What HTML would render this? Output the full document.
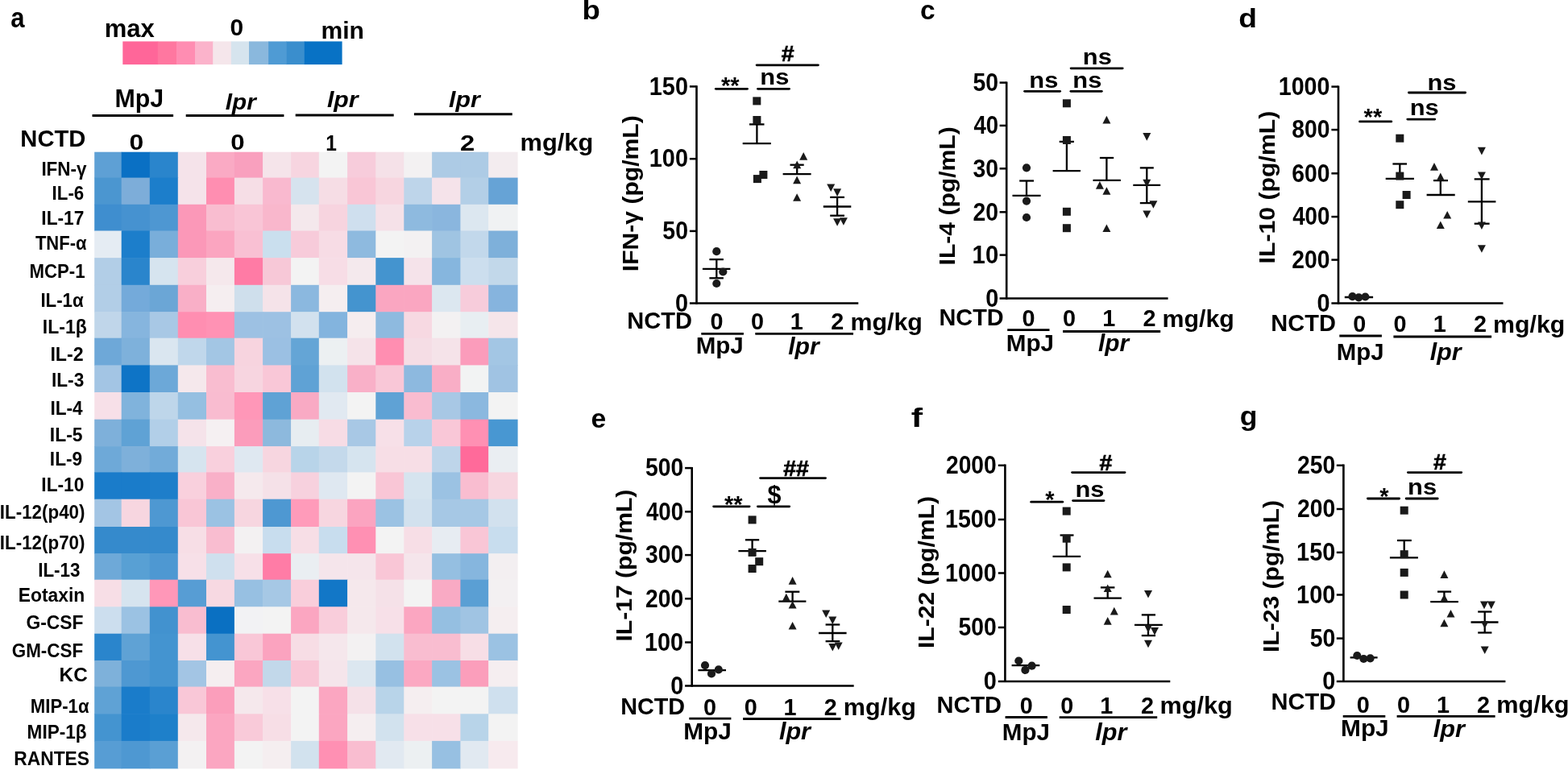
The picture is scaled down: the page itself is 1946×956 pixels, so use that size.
<!DOCTYPE html>
<html><head><meta charset="utf-8"><title>Figure</title>
<style>html,body{margin:0;padding:0;background:#fff;width:1946px;height:956px;overflow:hidden}svg{display:block}</style>
</head><body>
<svg width="1946" height="956" viewBox="0 0 1946 956" font-family='"Liberation Sans", Arial, sans-serif' font-weight="bold" fill="#000">
<rect width="1946" height="956" fill="#fff"/>
<g><rect x="117.20" y="188.70" width="34.10" height="32.50" fill="#5EA0D5"/>
<rect x="150.70" y="188.70" width="35.70" height="32.50" fill="#0A70C4"/>
<rect x="185.80" y="188.70" width="35.60" height="32.50" fill="#2A85CC"/>
<rect x="220.80" y="188.70" width="35.80" height="32.50" fill="#F5E3EA"/>
<rect x="256.00" y="188.70" width="35.50" height="32.50" fill="#FAAAC4"/>
<rect x="290.90" y="188.70" width="35.80" height="32.50" fill="#F9A0BE"/>
<rect x="326.10" y="188.70" width="35.60" height="32.50" fill="#F5E4EA"/>
<rect x="361.10" y="188.70" width="35.30" height="32.50" fill="#F7D5E0"/>
<rect x="395.80" y="188.70" width="35.90" height="32.50" fill="#F3F3F3"/>
<rect x="431.10" y="188.70" width="35.80" height="32.50" fill="#F7CCDB"/>
<rect x="466.30" y="188.70" width="35.60" height="32.50" fill="#F5E1E8"/>
<rect x="501.30" y="188.70" width="35.40" height="32.50" fill="#F3F1F2"/>
<rect x="536.10" y="188.70" width="35.90" height="32.50" fill="#ADCBE5"/>
<rect x="571.40" y="188.70" width="35.40" height="32.50" fill="#ADCBE5"/>
<rect x="606.20" y="188.70" width="36.40" height="32.50" fill="#F3ECEF"/>
<rect x="117.20" y="220.60" width="34.10" height="33.80" fill="#4B96D0"/>
<rect x="150.70" y="220.60" width="35.70" height="33.80" fill="#7DADD9"/>
<rect x="185.80" y="220.60" width="35.60" height="33.80" fill="#1C7ECB"/>
<rect x="220.80" y="220.60" width="35.80" height="33.80" fill="#F5E3EA"/>
<rect x="256.00" y="220.60" width="35.50" height="33.80" fill="#FF8EB1"/>
<rect x="290.90" y="220.60" width="35.80" height="33.80" fill="#F6DEE6"/>
<rect x="326.10" y="220.60" width="35.60" height="33.80" fill="#F9B9CF"/>
<rect x="361.10" y="220.60" width="35.30" height="33.80" fill="#D6E3EE"/>
<rect x="395.80" y="220.60" width="35.90" height="33.80" fill="#F6DDE5"/>
<rect x="431.10" y="220.60" width="35.80" height="33.80" fill="#F9C6D6"/>
<rect x="466.30" y="220.60" width="35.60" height="33.80" fill="#F7D6E0"/>
<rect x="501.30" y="220.60" width="35.40" height="33.80" fill="#BED5EA"/>
<rect x="536.10" y="220.60" width="35.90" height="33.80" fill="#F5E3EA"/>
<rect x="571.40" y="220.60" width="35.40" height="33.80" fill="#B3CFE7"/>
<rect x="606.20" y="220.60" width="36.40" height="33.80" fill="#66A3D6"/>
<rect x="117.20" y="253.80" width="34.10" height="33.30" fill="#3F8ECF"/>
<rect x="150.70" y="253.80" width="35.70" height="33.30" fill="#4692D0"/>
<rect x="185.80" y="253.80" width="35.60" height="33.30" fill="#4E97D2"/>
<rect x="220.80" y="253.80" width="35.80" height="33.30" fill="#FB98B8"/>
<rect x="256.00" y="253.80" width="35.50" height="33.30" fill="#F9BDD0"/>
<rect x="290.90" y="253.80" width="35.80" height="33.30" fill="#F9C5D6"/>
<rect x="326.10" y="253.80" width="35.60" height="33.30" fill="#F9B7CC"/>
<rect x="361.10" y="253.80" width="35.30" height="33.30" fill="#F4E8EC"/>
<rect x="395.80" y="253.80" width="35.90" height="33.30" fill="#F7D4DF"/>
<rect x="431.10" y="253.80" width="35.80" height="33.30" fill="#CFDFEE"/>
<rect x="466.30" y="253.80" width="35.60" height="33.30" fill="#F5E1E8"/>
<rect x="501.30" y="253.80" width="35.40" height="33.30" fill="#8EBADF"/>
<rect x="536.10" y="253.80" width="35.90" height="33.30" fill="#8AB6DE"/>
<rect x="571.40" y="253.80" width="35.40" height="33.30" fill="#DCE7F0"/>
<rect x="606.20" y="253.80" width="36.40" height="33.30" fill="#F0F2F3"/>
<rect x="117.20" y="286.50" width="34.10" height="34.20" fill="#E5ECF3"/>
<rect x="150.70" y="286.50" width="35.70" height="34.20" fill="#1C7ECB"/>
<rect x="185.80" y="286.50" width="35.60" height="34.20" fill="#79AEDA"/>
<rect x="220.80" y="286.50" width="35.80" height="34.20" fill="#FB98B8"/>
<rect x="256.00" y="286.50" width="35.50" height="34.20" fill="#FBA5C0"/>
<rect x="290.90" y="286.50" width="35.80" height="34.20" fill="#F9C0D3"/>
<rect x="326.10" y="286.50" width="35.60" height="34.20" fill="#CADFEE"/>
<rect x="361.10" y="286.50" width="35.30" height="34.20" fill="#F7CBDA"/>
<rect x="395.80" y="286.50" width="35.90" height="34.20" fill="#F7DCE5"/>
<rect x="431.10" y="286.50" width="35.80" height="34.20" fill="#8EBADF"/>
<rect x="466.30" y="286.50" width="35.60" height="34.20" fill="#F3F3F3"/>
<rect x="501.30" y="286.50" width="35.40" height="34.20" fill="#F3F1F2"/>
<rect x="536.10" y="286.50" width="35.90" height="34.20" fill="#9FC4E2"/>
<rect x="571.40" y="286.50" width="35.40" height="34.20" fill="#C2D8EB"/>
<rect x="606.20" y="286.50" width="36.40" height="34.20" fill="#7EB0DA"/>
<rect x="117.20" y="320.10" width="34.10" height="34.30" fill="#B2CEE7"/>
<rect x="150.70" y="320.10" width="35.70" height="34.30" fill="#2A85CC"/>
<rect x="185.80" y="320.10" width="35.60" height="34.30" fill="#D6E4EF"/>
<rect x="220.80" y="320.10" width="35.80" height="34.30" fill="#F8CFDC"/>
<rect x="256.00" y="320.10" width="35.50" height="34.30" fill="#F5E8EC"/>
<rect x="290.90" y="320.10" width="35.80" height="34.30" fill="#FF7BA5"/>
<rect x="326.10" y="320.10" width="35.60" height="34.30" fill="#F7C8D7"/>
<rect x="361.10" y="320.10" width="35.30" height="34.30" fill="#F3F3F3"/>
<rect x="395.80" y="320.10" width="35.90" height="34.30" fill="#F7DDE6"/>
<rect x="431.10" y="320.10" width="35.80" height="34.30" fill="#F4E9ED"/>
<rect x="466.30" y="320.10" width="35.60" height="34.30" fill="#4494CF"/>
<rect x="501.30" y="320.10" width="35.40" height="34.30" fill="#F5E3EA"/>
<rect x="536.10" y="320.10" width="35.90" height="34.30" fill="#86B6DE"/>
<rect x="571.40" y="320.10" width="35.40" height="34.30" fill="#CCDEEE"/>
<rect x="606.20" y="320.10" width="36.40" height="34.30" fill="#C2D8EA"/>
<rect x="117.20" y="353.80" width="34.10" height="34.00" fill="#B2CEE7"/>
<rect x="150.70" y="353.80" width="35.70" height="34.00" fill="#74AADA"/>
<rect x="185.80" y="353.80" width="35.60" height="34.00" fill="#6BA6D6"/>
<rect x="220.80" y="353.80" width="35.80" height="34.00" fill="#F9AFC7"/>
<rect x="256.00" y="353.80" width="35.50" height="34.00" fill="#F5EEF0"/>
<rect x="290.90" y="353.80" width="35.80" height="34.00" fill="#CFDFEC"/>
<rect x="326.10" y="353.80" width="35.60" height="34.00" fill="#F5E3E9"/>
<rect x="361.10" y="353.80" width="35.30" height="34.00" fill="#8BB8DF"/>
<rect x="395.80" y="353.80" width="35.90" height="34.00" fill="#F5EEF0"/>
<rect x="431.10" y="353.80" width="35.80" height="34.00" fill="#4494CF"/>
<rect x="466.30" y="353.80" width="35.60" height="34.00" fill="#FAA6C1"/>
<rect x="501.30" y="353.80" width="35.40" height="34.00" fill="#FAA6C1"/>
<rect x="536.10" y="353.80" width="35.90" height="34.00" fill="#DCE7F0"/>
<rect x="571.40" y="353.80" width="35.40" height="34.00" fill="#F7CCDB"/>
<rect x="606.20" y="353.80" width="36.40" height="34.00" fill="#86B4DE"/>
<rect x="117.20" y="387.20" width="34.10" height="33.10" fill="#C0D6EA"/>
<rect x="150.70" y="387.20" width="35.70" height="33.10" fill="#86B5DE"/>
<rect x="185.80" y="387.20" width="35.60" height="33.10" fill="#A8C8E5"/>
<rect x="220.80" y="387.20" width="35.80" height="33.10" fill="#FF8EB1"/>
<rect x="256.00" y="387.20" width="35.50" height="33.10" fill="#FF92B4"/>
<rect x="290.90" y="387.20" width="35.80" height="33.10" fill="#9DC1E3"/>
<rect x="326.10" y="387.20" width="35.60" height="33.10" fill="#9DC1E3"/>
<rect x="361.10" y="387.20" width="35.30" height="33.10" fill="#D2E1EE"/>
<rect x="395.80" y="387.20" width="35.90" height="33.10" fill="#83B4DE"/>
<rect x="431.10" y="387.20" width="35.80" height="33.10" fill="#F5EDEF"/>
<rect x="466.30" y="387.20" width="35.60" height="33.10" fill="#8EBADF"/>
<rect x="501.30" y="387.20" width="35.40" height="33.10" fill="#F7D9E2"/>
<rect x="536.10" y="387.20" width="35.90" height="33.10" fill="#F3F1F2"/>
<rect x="571.40" y="387.20" width="35.40" height="33.10" fill="#E8EEF2"/>
<rect x="606.20" y="387.20" width="36.40" height="33.10" fill="#F5E5EA"/>
<rect x="117.20" y="419.70" width="34.10" height="34.30" fill="#6EA8D8"/>
<rect x="150.70" y="419.70" width="35.70" height="34.30" fill="#7EB1DB"/>
<rect x="185.80" y="419.70" width="35.60" height="34.30" fill="#DAE6F0"/>
<rect x="220.80" y="419.70" width="35.80" height="34.30" fill="#C0D7EB"/>
<rect x="256.00" y="419.70" width="35.50" height="34.30" fill="#A3C6E4"/>
<rect x="290.90" y="419.70" width="35.80" height="34.30" fill="#F7D4DF"/>
<rect x="326.10" y="419.70" width="35.60" height="34.30" fill="#9BC0E3"/>
<rect x="361.10" y="419.70" width="35.30" height="34.30" fill="#64A5D6"/>
<rect x="395.80" y="419.70" width="35.90" height="34.30" fill="#ECF0F2"/>
<rect x="431.10" y="419.70" width="35.80" height="34.30" fill="#F5E3E9"/>
<rect x="466.30" y="419.70" width="35.60" height="34.30" fill="#FF8EB1"/>
<rect x="501.30" y="419.70" width="35.40" height="34.30" fill="#F5DDE5"/>
<rect x="536.10" y="419.70" width="35.90" height="34.30" fill="#F5E3E9"/>
<rect x="571.40" y="419.70" width="35.40" height="34.30" fill="#FB9CBB"/>
<rect x="606.20" y="419.70" width="36.40" height="34.30" fill="#A3C6E4"/>
<rect x="117.20" y="453.40" width="34.10" height="34.20" fill="#A3C5E4"/>
<rect x="150.70" y="453.40" width="35.70" height="34.20" fill="#0E74C6"/>
<rect x="185.80" y="453.40" width="35.60" height="34.20" fill="#6CA8D8"/>
<rect x="220.80" y="453.40" width="35.80" height="34.20" fill="#F5E8EC"/>
<rect x="256.00" y="453.40" width="35.50" height="34.20" fill="#F9BDD0"/>
<rect x="290.90" y="453.40" width="35.80" height="34.20" fill="#F7D5E0"/>
<rect x="326.10" y="453.40" width="35.60" height="34.20" fill="#F9C7D7"/>
<rect x="361.10" y="453.40" width="35.30" height="34.20" fill="#5FA2D5"/>
<rect x="395.80" y="453.40" width="35.90" height="34.20" fill="#D2E2EE"/>
<rect x="431.10" y="453.40" width="35.80" height="34.20" fill="#F9B0C8"/>
<rect x="466.30" y="453.40" width="35.60" height="34.20" fill="#F9C7D7"/>
<rect x="501.30" y="453.40" width="35.40" height="34.20" fill="#8DB9DF"/>
<rect x="536.10" y="453.40" width="35.90" height="34.20" fill="#F9AEC6"/>
<rect x="571.40" y="453.40" width="35.40" height="34.20" fill="#F2F3F3"/>
<rect x="606.20" y="453.40" width="36.40" height="34.20" fill="#A0C3E3"/>
<rect x="117.20" y="487.00" width="34.10" height="34.30" fill="#F7E0E8"/>
<rect x="150.70" y="487.00" width="35.70" height="34.30" fill="#80B3DC"/>
<rect x="185.80" y="487.00" width="35.60" height="34.30" fill="#BED6EA"/>
<rect x="220.80" y="487.00" width="35.80" height="34.30" fill="#95BFE1"/>
<rect x="256.00" y="487.00" width="35.50" height="34.30" fill="#F9BCD0"/>
<rect x="290.90" y="487.00" width="35.80" height="34.30" fill="#FF97B8"/>
<rect x="326.10" y="487.00" width="35.60" height="34.30" fill="#5FA2D5"/>
<rect x="361.10" y="487.00" width="35.30" height="34.30" fill="#F9AAC4"/>
<rect x="395.80" y="487.00" width="35.90" height="34.30" fill="#E1E9F1"/>
<rect x="431.10" y="487.00" width="35.80" height="34.30" fill="#F3F3F3"/>
<rect x="466.30" y="487.00" width="35.60" height="34.30" fill="#5FA2D5"/>
<rect x="501.30" y="487.00" width="35.40" height="34.30" fill="#F9BCD0"/>
<rect x="536.10" y="487.00" width="35.90" height="34.30" fill="#A8C8E5"/>
<rect x="571.40" y="487.00" width="35.40" height="34.30" fill="#8BB8DF"/>
<rect x="606.20" y="487.00" width="36.40" height="34.30" fill="#F3F3F3"/>
<rect x="117.20" y="520.70" width="34.10" height="34.00" fill="#7EB0DA"/>
<rect x="150.70" y="520.70" width="35.70" height="34.00" fill="#5FA2D5"/>
<rect x="185.80" y="520.70" width="35.60" height="34.00" fill="#B2CFE8"/>
<rect x="220.80" y="520.70" width="35.80" height="34.00" fill="#F5E3EA"/>
<rect x="256.00" y="520.70" width="35.50" height="34.00" fill="#F5F0F2"/>
<rect x="290.90" y="520.70" width="35.80" height="34.00" fill="#FB9CBB"/>
<rect x="326.10" y="520.70" width="35.60" height="34.00" fill="#8DB9DD"/>
<rect x="361.10" y="520.70" width="35.30" height="34.00" fill="#E7EDF1"/>
<rect x="395.80" y="520.70" width="35.90" height="34.00" fill="#F7DCE5"/>
<rect x="431.10" y="520.70" width="35.80" height="34.00" fill="#A8C8E5"/>
<rect x="466.30" y="520.70" width="35.60" height="34.00" fill="#F7E0E8"/>
<rect x="501.30" y="520.70" width="35.40" height="34.00" fill="#B8D2EA"/>
<rect x="536.10" y="520.70" width="35.90" height="34.00" fill="#F9C7D7"/>
<rect x="571.40" y="520.70" width="35.40" height="34.00" fill="#FF90B3"/>
<rect x="606.20" y="520.70" width="36.40" height="34.00" fill="#4897D2"/>
<rect x="117.20" y="554.10" width="34.10" height="32.90" fill="#6EA9D8"/>
<rect x="150.70" y="554.10" width="35.70" height="32.90" fill="#7EB0DA"/>
<rect x="185.80" y="554.10" width="35.60" height="32.90" fill="#72ABD9"/>
<rect x="220.80" y="554.10" width="35.80" height="32.90" fill="#D6E4EF"/>
<rect x="256.00" y="554.10" width="35.50" height="32.90" fill="#F9D0DD"/>
<rect x="290.90" y="554.10" width="35.80" height="32.90" fill="#DFE8F1"/>
<rect x="326.10" y="554.10" width="35.60" height="32.90" fill="#F7D6E0"/>
<rect x="361.10" y="554.10" width="35.30" height="32.90" fill="#B8D4E9"/>
<rect x="395.80" y="554.10" width="35.90" height="32.90" fill="#C4D9EB"/>
<rect x="431.10" y="554.10" width="35.80" height="32.90" fill="#D6E4EF"/>
<rect x="466.30" y="554.10" width="35.60" height="32.90" fill="#F7DEE6"/>
<rect x="501.30" y="554.10" width="35.40" height="32.90" fill="#F7DEE6"/>
<rect x="536.10" y="554.10" width="35.90" height="32.90" fill="#BED5EA"/>
<rect x="571.40" y="554.10" width="35.40" height="32.90" fill="#FF6A9A"/>
<rect x="606.20" y="554.10" width="36.40" height="32.90" fill="#EAEEF2"/>
<rect x="117.20" y="586.40" width="34.10" height="33.90" fill="#1A7CCA"/>
<rect x="150.70" y="586.40" width="35.70" height="33.90" fill="#1A7CCA"/>
<rect x="185.80" y="586.40" width="35.60" height="33.90" fill="#1E7ECA"/>
<rect x="220.80" y="586.40" width="35.80" height="33.90" fill="#F9D0DD"/>
<rect x="256.00" y="586.40" width="35.50" height="33.90" fill="#F9B0C8"/>
<rect x="290.90" y="586.40" width="35.80" height="33.90" fill="#F5E9ED"/>
<rect x="326.10" y="586.40" width="35.60" height="33.90" fill="#F5E1E8"/>
<rect x="361.10" y="586.40" width="35.30" height="33.90" fill="#F7D1DE"/>
<rect x="395.80" y="586.40" width="35.90" height="33.90" fill="#DFE8F1"/>
<rect x="431.10" y="586.40" width="35.80" height="33.90" fill="#F3F3F3"/>
<rect x="466.30" y="586.40" width="35.60" height="33.90" fill="#F9C6D6"/>
<rect x="501.30" y="586.40" width="35.40" height="33.90" fill="#D6E4EF"/>
<rect x="536.10" y="586.40" width="35.90" height="33.90" fill="#9BC2E3"/>
<rect x="571.40" y="586.40" width="35.40" height="33.90" fill="#F9BDD0"/>
<rect x="606.20" y="586.40" width="36.40" height="33.90" fill="#F7D6E0"/>
<rect x="117.20" y="619.70" width="34.10" height="34.90" fill="#A3C5E4"/>
<rect x="150.70" y="619.70" width="35.70" height="34.90" fill="#F7D6E0"/>
<rect x="185.80" y="619.70" width="35.60" height="34.90" fill="#4E98D2"/>
<rect x="220.80" y="619.70" width="35.80" height="34.90" fill="#F9C6D6"/>
<rect x="256.00" y="619.70" width="35.50" height="34.90" fill="#9BC2E3"/>
<rect x="290.90" y="619.70" width="35.80" height="34.90" fill="#F7D6E0"/>
<rect x="326.10" y="619.70" width="35.60" height="34.90" fill="#4E98D2"/>
<rect x="361.10" y="619.70" width="35.30" height="34.90" fill="#FF9BBA"/>
<rect x="395.80" y="619.70" width="35.90" height="34.90" fill="#F7D6E0"/>
<rect x="431.10" y="619.70" width="35.80" height="34.90" fill="#FBA4C0"/>
<rect x="466.30" y="619.70" width="35.60" height="34.90" fill="#9BC2E3"/>
<rect x="501.30" y="619.70" width="35.40" height="34.90" fill="#D2E1EE"/>
<rect x="536.10" y="619.70" width="35.90" height="34.90" fill="#A6C8E5"/>
<rect x="571.40" y="619.70" width="35.40" height="34.90" fill="#A6C8E5"/>
<rect x="606.20" y="619.70" width="36.40" height="34.90" fill="#D2E1EE"/>
<rect x="117.20" y="654.00" width="34.10" height="33.80" fill="#358ACC"/>
<rect x="150.70" y="654.00" width="35.70" height="33.80" fill="#358ACC"/>
<rect x="185.80" y="654.00" width="35.60" height="33.80" fill="#358ACC"/>
<rect x="220.80" y="654.00" width="35.80" height="33.80" fill="#F7DEE6"/>
<rect x="256.00" y="654.00" width="35.50" height="33.80" fill="#F9BDD0"/>
<rect x="290.90" y="654.00" width="35.80" height="33.80" fill="#F3F1F2"/>
<rect x="326.10" y="654.00" width="35.60" height="33.80" fill="#C8DDEE"/>
<rect x="361.10" y="654.00" width="35.30" height="33.80" fill="#F7DEE6"/>
<rect x="395.80" y="654.00" width="35.90" height="33.80" fill="#C8DDEE"/>
<rect x="431.10" y="654.00" width="35.80" height="33.80" fill="#FF90B3"/>
<rect x="466.30" y="654.00" width="35.60" height="33.80" fill="#F3F3F3"/>
<rect x="501.30" y="654.00" width="35.40" height="33.80" fill="#F7DEE6"/>
<rect x="536.10" y="654.00" width="35.90" height="33.80" fill="#E7ECF2"/>
<rect x="571.40" y="654.00" width="35.40" height="33.80" fill="#F9C6D6"/>
<rect x="606.20" y="654.00" width="36.40" height="33.80" fill="#C8DDEE"/>
<rect x="117.20" y="687.20" width="34.10" height="33.10" fill="#6EA9D8"/>
<rect x="150.70" y="687.20" width="35.70" height="33.10" fill="#58A0D4"/>
<rect x="185.80" y="687.20" width="35.60" height="33.10" fill="#4E98D2"/>
<rect x="220.80" y="687.20" width="35.80" height="33.10" fill="#F7E0E8"/>
<rect x="256.00" y="687.20" width="35.50" height="33.10" fill="#CFE0EE"/>
<rect x="290.90" y="687.20" width="35.80" height="33.10" fill="#F7E0E8"/>
<rect x="326.10" y="687.20" width="35.60" height="33.10" fill="#FF7CA6"/>
<rect x="361.10" y="687.20" width="35.30" height="33.10" fill="#EAEEF2"/>
<rect x="395.80" y="687.20" width="35.90" height="33.10" fill="#F5E5EB"/>
<rect x="431.10" y="687.20" width="35.80" height="33.10" fill="#F5E5EB"/>
<rect x="466.30" y="687.20" width="35.60" height="33.10" fill="#F9C6D6"/>
<rect x="501.30" y="687.20" width="35.40" height="33.10" fill="#F5E5EB"/>
<rect x="536.10" y="687.20" width="35.90" height="33.10" fill="#95BFE1"/>
<rect x="571.40" y="687.20" width="35.40" height="33.10" fill="#86B6DE"/>
<rect x="606.20" y="687.20" width="36.40" height="33.10" fill="#F3EFF1"/>
<rect x="117.20" y="719.70" width="34.10" height="34.20" fill="#F7DEE6"/>
<rect x="150.70" y="719.70" width="35.70" height="34.20" fill="#D6E4EF"/>
<rect x="185.80" y="719.70" width="35.60" height="34.20" fill="#FF97B8"/>
<rect x="220.80" y="719.70" width="35.80" height="34.20" fill="#579DD4"/>
<rect x="256.00" y="719.70" width="35.50" height="34.20" fill="#F7D9E2"/>
<rect x="290.90" y="719.70" width="35.80" height="34.20" fill="#97C0E2"/>
<rect x="326.10" y="719.70" width="35.60" height="34.20" fill="#A6C8E5"/>
<rect x="361.10" y="719.70" width="35.30" height="34.20" fill="#F9CEDB"/>
<rect x="395.80" y="719.70" width="35.90" height="34.20" fill="#1277C7"/>
<rect x="431.10" y="719.70" width="35.80" height="34.20" fill="#F5E8EC"/>
<rect x="466.30" y="719.70" width="35.60" height="34.20" fill="#F5E1E8"/>
<rect x="501.30" y="719.70" width="35.40" height="34.20" fill="#F3F3F3"/>
<rect x="536.10" y="719.70" width="35.90" height="34.20" fill="#F9AAC4"/>
<rect x="571.40" y="719.70" width="35.40" height="34.20" fill="#5A9FD4"/>
<rect x="606.20" y="719.70" width="36.40" height="34.20" fill="#F3F0F2"/>
<rect x="117.20" y="753.30" width="34.10" height="34.00" fill="#CCDEEE"/>
<rect x="150.70" y="753.30" width="35.70" height="34.00" fill="#9BC2E3"/>
<rect x="185.80" y="753.30" width="35.60" height="34.00" fill="#4292CF"/>
<rect x="220.80" y="753.30" width="35.80" height="34.00" fill="#F9BDD0"/>
<rect x="256.00" y="753.30" width="35.50" height="34.00" fill="#0A70C2"/>
<rect x="290.90" y="753.30" width="35.80" height="34.00" fill="#F2F2F4"/>
<rect x="326.10" y="753.30" width="35.60" height="34.00" fill="#F3F3F3"/>
<rect x="361.10" y="753.30" width="35.30" height="34.00" fill="#FBA6C1"/>
<rect x="395.80" y="753.30" width="35.90" height="34.00" fill="#F9CDDB"/>
<rect x="431.10" y="753.30" width="35.80" height="34.00" fill="#F5E8EC"/>
<rect x="466.30" y="753.30" width="35.60" height="34.00" fill="#F7E0E8"/>
<rect x="501.30" y="753.30" width="35.40" height="34.00" fill="#FBA6C1"/>
<rect x="536.10" y="753.30" width="35.90" height="34.00" fill="#95BFE1"/>
<rect x="571.40" y="753.30" width="35.40" height="34.00" fill="#A0C4E3"/>
<rect x="606.20" y="753.30" width="36.40" height="34.00" fill="#F5EEF0"/>
<rect x="117.20" y="786.70" width="34.10" height="33.90" fill="#2A85CC"/>
<rect x="150.70" y="786.70" width="35.70" height="33.90" fill="#5FA2D5"/>
<rect x="185.80" y="786.70" width="35.60" height="33.90" fill="#4494D0"/>
<rect x="220.80" y="786.70" width="35.80" height="33.90" fill="#F7E0E8"/>
<rect x="256.00" y="786.70" width="35.50" height="33.90" fill="#4494D0"/>
<rect x="290.90" y="786.70" width="35.80" height="33.90" fill="#F9C7D7"/>
<rect x="326.10" y="786.70" width="35.60" height="33.90" fill="#FBA3BF"/>
<rect x="361.10" y="786.70" width="35.30" height="33.90" fill="#F7DDE5"/>
<rect x="395.80" y="786.70" width="35.90" height="33.90" fill="#F5E7EC"/>
<rect x="431.10" y="786.70" width="35.80" height="33.90" fill="#F3F1F2"/>
<rect x="466.30" y="786.70" width="35.60" height="33.90" fill="#D2E2EE"/>
<rect x="501.30" y="786.70" width="35.40" height="33.90" fill="#F9BDD0"/>
<rect x="536.10" y="786.70" width="35.90" height="33.90" fill="#F9BDD0"/>
<rect x="571.40" y="786.70" width="35.40" height="33.90" fill="#F7DEE6"/>
<rect x="606.20" y="786.70" width="36.40" height="33.90" fill="#9BC2E3"/>
<rect x="117.20" y="820.00" width="34.10" height="33.20" fill="#7EB1DA"/>
<rect x="150.70" y="820.00" width="35.70" height="33.20" fill="#4E98D2"/>
<rect x="185.80" y="820.00" width="35.60" height="33.20" fill="#4494D0"/>
<rect x="220.80" y="820.00" width="35.80" height="33.20" fill="#A3C5E4"/>
<rect x="256.00" y="820.00" width="35.50" height="33.20" fill="#F5EEF0"/>
<rect x="290.90" y="820.00" width="35.80" height="33.20" fill="#FBA6C1"/>
<rect x="326.10" y="820.00" width="35.60" height="33.20" fill="#C2D8EA"/>
<rect x="361.10" y="820.00" width="35.30" height="33.20" fill="#F9C6D6"/>
<rect x="395.80" y="820.00" width="35.90" height="33.20" fill="#F5E5EB"/>
<rect x="431.10" y="820.00" width="35.80" height="33.20" fill="#DCE7F0"/>
<rect x="466.30" y="820.00" width="35.60" height="33.20" fill="#97C0E2"/>
<rect x="501.30" y="820.00" width="35.40" height="33.20" fill="#FBA8C2"/>
<rect x="536.10" y="820.00" width="35.90" height="33.20" fill="#9BC2E3"/>
<rect x="571.40" y="820.00" width="35.40" height="33.20" fill="#FB9EBB"/>
<rect x="606.20" y="820.00" width="36.40" height="33.20" fill="#F5EEF0"/>
<rect x="117.20" y="852.60" width="34.10" height="34.30" fill="#5FA2D5"/>
<rect x="150.70" y="852.60" width="35.70" height="34.30" fill="#1A7CCA"/>
<rect x="185.80" y="852.60" width="35.60" height="34.30" fill="#2A85CC"/>
<rect x="220.80" y="852.60" width="35.80" height="34.30" fill="#F9C7D7"/>
<rect x="256.00" y="852.60" width="35.50" height="34.30" fill="#FB9EBB"/>
<rect x="290.90" y="852.60" width="35.80" height="34.30" fill="#F5E8EC"/>
<rect x="326.10" y="852.60" width="35.60" height="34.30" fill="#F7E0E8"/>
<rect x="361.10" y="852.60" width="35.30" height="34.30" fill="#F3F3F3"/>
<rect x="395.80" y="852.60" width="35.90" height="34.30" fill="#FBA6C1"/>
<rect x="431.10" y="852.60" width="35.80" height="34.30" fill="#F5E1E8"/>
<rect x="466.30" y="852.60" width="35.60" height="34.30" fill="#B8D4E9"/>
<rect x="501.30" y="852.60" width="35.40" height="34.30" fill="#F5EEF0"/>
<rect x="536.10" y="852.60" width="35.90" height="34.30" fill="#F3F3F3"/>
<rect x="571.40" y="852.60" width="35.40" height="34.30" fill="#F3F3F3"/>
<rect x="606.20" y="852.60" width="36.40" height="34.30" fill="#CFE0EE"/>
<rect x="117.20" y="886.30" width="34.10" height="34.20" fill="#4494D0"/>
<rect x="150.70" y="886.30" width="35.70" height="34.20" fill="#1A7CCA"/>
<rect x="185.80" y="886.30" width="35.60" height="34.20" fill="#1E80CA"/>
<rect x="220.80" y="886.30" width="35.80" height="34.20" fill="#F5E8EC"/>
<rect x="256.00" y="886.30" width="35.50" height="34.20" fill="#FBA6C1"/>
<rect x="290.90" y="886.30" width="35.80" height="34.20" fill="#F9CAD9"/>
<rect x="326.10" y="886.30" width="35.60" height="34.20" fill="#F7DEE6"/>
<rect x="361.10" y="886.30" width="35.30" height="34.20" fill="#F3F3F3"/>
<rect x="395.80" y="886.30" width="35.90" height="34.20" fill="#FBA6C1"/>
<rect x="431.10" y="886.30" width="35.80" height="34.20" fill="#F5EEF0"/>
<rect x="466.30" y="886.30" width="35.60" height="34.20" fill="#D2E2EE"/>
<rect x="501.30" y="886.30" width="35.40" height="34.20" fill="#F7E0E8"/>
<rect x="536.10" y="886.30" width="35.90" height="34.20" fill="#F7E0E8"/>
<rect x="571.40" y="886.30" width="35.40" height="34.20" fill="#B8D4E9"/>
<rect x="606.20" y="886.30" width="36.40" height="34.20" fill="#F3F3F3"/>
<rect x="117.20" y="919.90" width="34.10" height="34.50" fill="#579DD4"/>
<rect x="150.70" y="919.90" width="35.70" height="34.50" fill="#4E98D2"/>
<rect x="185.80" y="919.90" width="35.60" height="34.50" fill="#5A9FD4"/>
<rect x="220.80" y="919.90" width="35.80" height="34.50" fill="#F3F1F2"/>
<rect x="256.00" y="919.90" width="35.50" height="34.50" fill="#FBA6C1"/>
<rect x="290.90" y="919.90" width="35.80" height="34.50" fill="#F3F3F3"/>
<rect x="326.10" y="919.90" width="35.60" height="34.50" fill="#F5EEF0"/>
<rect x="361.10" y="919.90" width="35.30" height="34.50" fill="#D2E2EE"/>
<rect x="395.80" y="919.90" width="35.90" height="34.50" fill="#FF90B3"/>
<rect x="431.10" y="919.90" width="35.80" height="34.50" fill="#F9BDD0"/>
<rect x="466.30" y="919.90" width="35.60" height="34.50" fill="#E1E9F1"/>
<rect x="501.30" y="919.90" width="35.40" height="34.50" fill="#ECF0F2"/>
<rect x="536.10" y="919.90" width="35.90" height="34.50" fill="#97C0E2"/>
<rect x="571.40" y="919.90" width="35.40" height="34.50" fill="#E1E9F1"/>
<rect x="606.20" y="919.90" width="36.40" height="34.50" fill="#F7EAEE"/>
<rect x="152.30" y="51.4" width="44.00" height="28.7" fill="#FF6699"/>
<rect x="195.80" y="51.4" width="24.00" height="28.7" fill="#FF77A0"/>
<rect x="219.30" y="51.4" width="23.30" height="28.7" fill="#FF8DB2"/>
<rect x="242.10" y="51.4" width="22.70" height="28.7" fill="#FBB3CB"/>
<rect x="264.30" y="51.4" width="23.00" height="28.7" fill="#F5E6EB"/>
<rect x="286.80" y="51.4" width="22.70" height="28.7" fill="#D6E4EE"/>
<rect x="309.00" y="51.4" width="24.60" height="28.7" fill="#8AB8DD"/>
<rect x="333.10" y="51.4" width="22.70" height="28.7" fill="#4F9BD4"/>
<rect x="355.30" y="51.4" width="23.00" height="28.7" fill="#3A8ECD"/>
<rect x="377.80" y="51.4" width="46.80" height="28.7" fill="#0872C5"/></g>
<line x1="114.50" y1="143.50" x2="215.10" y2="143.50" stroke="#000" stroke-width="3.0" stroke-linecap="butt"/>
<line x1="230.70" y1="143.50" x2="352.40" y2="143.50" stroke="#000" stroke-width="3.0" stroke-linecap="butt"/>
<line x1="366.70" y1="143.00" x2="488.70" y2="143.00" stroke="#000" stroke-width="3.0" stroke-linecap="butt"/>
<line x1="513.90" y1="141.80" x2="635.80" y2="141.80" stroke="#000" stroke-width="3.0" stroke-linecap="butt"/>
<line x1="864.50" y1="106.20" x2="864.50" y2="377.70" stroke="#000" stroke-width="2.6" stroke-linecap="butt"/>
<line x1="855.90" y1="376.50" x2="1065.30" y2="376.50" stroke="#000" stroke-width="2.5" stroke-linecap="butt"/>
<line x1="855.90" y1="107.40" x2="864.50" y2="107.40" stroke="#000" stroke-width="2.5" stroke-linecap="butt"/>
<line x1="855.90" y1="197.20" x2="864.50" y2="197.20" stroke="#000" stroke-width="2.5" stroke-linecap="butt"/>
<line x1="855.90" y1="286.90" x2="864.50" y2="286.90" stroke="#000" stroke-width="2.5" stroke-linecap="butt"/>
<line x1="871.90" y1="333.90" x2="906.40" y2="333.90" stroke="#000" stroke-width="2.3" stroke-linecap="butt"/>
<line x1="880.40" y1="322.10" x2="897.90" y2="322.10" stroke="#000" stroke-width="2.3" stroke-linecap="butt"/>
<line x1="880.40" y1="345.30" x2="897.90" y2="345.30" stroke="#000" stroke-width="2.3" stroke-linecap="butt"/>
<line x1="889.30" y1="322.10" x2="889.30" y2="345.30" stroke="#000" stroke-width="2.3" stroke-linecap="butt"/>
<circle cx="889.30" cy="312.20" r="5.10" fill="#1a1a1a"/>
<circle cx="897.30" cy="337.50" r="5.10" fill="#1a1a1a"/>
<circle cx="889.30" cy="352.00" r="5.10" fill="#1a1a1a"/>
<line x1="921.70" y1="178.20" x2="956.80" y2="178.20" stroke="#000" stroke-width="2.3" stroke-linecap="butt"/>
<line x1="930.00" y1="154.40" x2="948.50" y2="154.40" stroke="#000" stroke-width="2.3" stroke-linecap="butt"/>
<line x1="939.40" y1="154.40" x2="939.40" y2="178.20" stroke="#000" stroke-width="2.3" stroke-linecap="butt"/>
<rect x="934.30" y="120.40" width="10.0" height="10.0" fill="#1a1a1a"/>
<rect x="934.40" y="144.00" width="10.0" height="10.0" fill="#1a1a1a"/>
<rect x="934.90" y="217.10" width="10.0" height="10.0" fill="#1a1a1a"/>
<rect x="942.40" y="212.00" width="10.0" height="10.0" fill="#1a1a1a"/>
<line x1="971.60" y1="216.20" x2="1006.60" y2="216.20" stroke="#000" stroke-width="2.3" stroke-linecap="butt"/>
<line x1="980.50" y1="204.70" x2="997.70" y2="204.70" stroke="#000" stroke-width="2.3" stroke-linecap="butt"/>
<line x1="989.20" y1="204.70" x2="989.20" y2="216.20" stroke="#000" stroke-width="2.3" stroke-linecap="butt"/>
<polygon points="997.20,189.10 1002.20,198.70 992.20,198.70" fill="#1a1a1a"/>
<polygon points="989.20,199.60 994.20,209.20 984.20,209.20" fill="#1a1a1a"/>
<polygon points="989.10,218.60 994.10,228.20 984.10,228.20" fill="#1a1a1a"/>
<polygon points="989.10,240.20 994.10,249.80 984.10,249.80" fill="#1a1a1a"/>
<line x1="1021.80" y1="256.50" x2="1056.30" y2="256.50" stroke="#000" stroke-width="2.3" stroke-linecap="butt"/>
<line x1="1030.20" y1="244.90" x2="1048.00" y2="244.90" stroke="#000" stroke-width="2.3" stroke-linecap="butt"/>
<line x1="1030.20" y1="267.70" x2="1048.00" y2="267.70" stroke="#000" stroke-width="2.3" stroke-linecap="butt"/>
<line x1="1039.10" y1="244.90" x2="1039.10" y2="267.70" stroke="#000" stroke-width="2.3" stroke-linecap="butt"/>
<polygon points="1026.20,228.40 1036.20,228.40 1031.20,238.00" fill="#1a1a1a"/>
<polygon points="1034.10,234.30 1044.10,234.30 1039.10,243.90" fill="#1a1a1a"/>
<polygon points="1034.10,271.20 1044.10,271.20 1039.10,280.80" fill="#1a1a1a"/>
<polygon points="1041.90,270.20 1051.90,270.20 1046.90,279.80" fill="#1a1a1a"/>
<line x1="888.30" y1="110.30" x2="927.50" y2="110.30" stroke="#000" stroke-width="2.8" stroke-linecap="round"/>
<line x1="940.50" y1="110.30" x2="979.50" y2="110.30" stroke="#000" stroke-width="2.8" stroke-linecap="round"/>
<line x1="939.10" y1="80.80" x2="1015.40" y2="80.80" stroke="#000" stroke-width="2.8" stroke-linecap="round"/>
<line x1="870.30" y1="414.30" x2="922.90" y2="414.30" stroke="#000" stroke-width="2.8" stroke-linecap="butt"/>
<line x1="937.30" y1="414.30" x2="1059.00" y2="414.30" stroke="#000" stroke-width="2.8" stroke-linecap="butt"/>
<line x1="1249.20" y1="101.40" x2="1249.20" y2="371.80" stroke="#000" stroke-width="2.6" stroke-linecap="butt"/>
<line x1="1240.60" y1="370.60" x2="1449.60" y2="370.60" stroke="#000" stroke-width="2.5" stroke-linecap="butt"/>
<line x1="1240.60" y1="102.60" x2="1249.20" y2="102.60" stroke="#000" stroke-width="2.5" stroke-linecap="butt"/>
<line x1="1240.60" y1="155.90" x2="1249.20" y2="155.90" stroke="#000" stroke-width="2.5" stroke-linecap="butt"/>
<line x1="1240.60" y1="209.30" x2="1249.20" y2="209.30" stroke="#000" stroke-width="2.5" stroke-linecap="butt"/>
<line x1="1240.60" y1="263.30" x2="1249.20" y2="263.30" stroke="#000" stroke-width="2.5" stroke-linecap="butt"/>
<line x1="1240.60" y1="316.60" x2="1249.20" y2="316.60" stroke="#000" stroke-width="2.5" stroke-linecap="butt"/>
<line x1="1256.50" y1="242.80" x2="1291.60" y2="242.80" stroke="#000" stroke-width="2.3" stroke-linecap="butt"/>
<line x1="1265.20" y1="224.50" x2="1283.00" y2="224.50" stroke="#000" stroke-width="2.3" stroke-linecap="butt"/>
<line x1="1274.00" y1="224.50" x2="1274.00" y2="242.80" stroke="#000" stroke-width="2.3" stroke-linecap="butt"/>
<circle cx="1274.00" cy="208.30" r="5.10" fill="#1a1a1a"/>
<circle cx="1274.00" cy="249.60" r="5.10" fill="#1a1a1a"/>
<circle cx="1274.00" cy="270.00" r="5.10" fill="#1a1a1a"/>
<line x1="1306.60" y1="212.20" x2="1341.00" y2="212.20" stroke="#000" stroke-width="2.3" stroke-linecap="butt"/>
<line x1="1314.70" y1="175.90" x2="1332.90" y2="175.90" stroke="#000" stroke-width="2.3" stroke-linecap="butt"/>
<line x1="1323.90" y1="175.90" x2="1323.90" y2="212.20" stroke="#000" stroke-width="2.3" stroke-linecap="butt"/>
<rect x="1318.90" y="123.30" width="10.0" height="10.0" fill="#1a1a1a"/>
<rect x="1318.90" y="169.00" width="10.0" height="10.0" fill="#1a1a1a"/>
<rect x="1318.90" y="257.80" width="10.0" height="10.0" fill="#1a1a1a"/>
<rect x="1318.90" y="278.20" width="10.0" height="10.0" fill="#1a1a1a"/>
<line x1="1356.50" y1="223.90" x2="1390.90" y2="223.90" stroke="#000" stroke-width="2.3" stroke-linecap="butt"/>
<line x1="1364.90" y1="196.00" x2="1382.20" y2="196.00" stroke="#000" stroke-width="2.3" stroke-linecap="butt"/>
<line x1="1373.40" y1="196.00" x2="1373.40" y2="223.90" stroke="#000" stroke-width="2.3" stroke-linecap="butt"/>
<polygon points="1373.40,143.80 1378.40,153.40 1368.40,153.40" fill="#1a1a1a"/>
<polygon points="1364.90,225.10 1369.90,234.70 1359.90,234.70" fill="#1a1a1a"/>
<polygon points="1373.40,232.20 1378.40,241.80 1368.40,241.80" fill="#1a1a1a"/>
<polygon points="1373.40,278.40 1378.40,288.00 1368.40,288.00" fill="#1a1a1a"/>
<line x1="1406.30" y1="229.90" x2="1440.20" y2="229.90" stroke="#000" stroke-width="2.3" stroke-linecap="butt"/>
<line x1="1414.80" y1="208.40" x2="1431.80" y2="208.40" stroke="#000" stroke-width="2.3" stroke-linecap="butt"/>
<line x1="1414.80" y1="252.10" x2="1431.80" y2="252.10" stroke="#000" stroke-width="2.3" stroke-linecap="butt"/>
<line x1="1423.30" y1="208.40" x2="1423.30" y2="252.10" stroke="#000" stroke-width="2.3" stroke-linecap="butt"/>
<polygon points="1418.30,165.10 1428.30,165.10 1423.30,174.70" fill="#1a1a1a"/>
<polygon points="1418.30,222.80 1428.30,222.80 1423.30,232.40" fill="#1a1a1a"/>
<polygon points="1426.40,249.20 1436.40,249.20 1431.40,258.80" fill="#1a1a1a"/>
<polygon points="1418.30,261.40 1428.30,261.40 1423.30,271.00" fill="#1a1a1a"/>
<line x1="1271.60" y1="113.30" x2="1315.60" y2="113.30" stroke="#000" stroke-width="2.8" stroke-linecap="round"/>
<line x1="1328.90" y1="113.30" x2="1367.30" y2="113.30" stroke="#000" stroke-width="2.8" stroke-linecap="round"/>
<line x1="1329.10" y1="84.80" x2="1393.20" y2="84.80" stroke="#000" stroke-width="2.8" stroke-linecap="round"/>
<line x1="1250.20" y1="409.60" x2="1302.50" y2="409.60" stroke="#000" stroke-width="2.8" stroke-linecap="butt"/>
<line x1="1319.10" y1="411.50" x2="1440.20" y2="411.50" stroke="#000" stroke-width="2.8" stroke-linecap="butt"/>
<line x1="1661.00" y1="106.40" x2="1661.00" y2="377.70" stroke="#000" stroke-width="2.6" stroke-linecap="butt"/>
<line x1="1652.40" y1="376.50" x2="1865.50" y2="376.50" stroke="#000" stroke-width="2.5" stroke-linecap="butt"/>
<line x1="1652.40" y1="107.60" x2="1661.00" y2="107.60" stroke="#000" stroke-width="2.5" stroke-linecap="butt"/>
<line x1="1652.40" y1="161.10" x2="1661.00" y2="161.10" stroke="#000" stroke-width="2.5" stroke-linecap="butt"/>
<line x1="1652.40" y1="215.30" x2="1661.00" y2="215.30" stroke="#000" stroke-width="2.5" stroke-linecap="butt"/>
<line x1="1652.40" y1="269.10" x2="1661.00" y2="269.10" stroke="#000" stroke-width="2.5" stroke-linecap="butt"/>
<line x1="1652.40" y1="322.60" x2="1661.00" y2="322.60" stroke="#000" stroke-width="2.5" stroke-linecap="butt"/>
<line x1="1668.80" y1="369.00" x2="1704.10" y2="369.00" stroke="#000" stroke-width="2.3" stroke-linecap="butt"/>
<line x1="1686.30" y1="369.00" x2="1686.30" y2="369.00" stroke="#000" stroke-width="2.3" stroke-linecap="butt"/>
<circle cx="1678.50" cy="368.20" r="5.10" fill="#1a1a1a"/>
<circle cx="1686.30" cy="369.30" r="5.10" fill="#1a1a1a"/>
<circle cx="1694.40" cy="368.50" r="5.10" fill="#1a1a1a"/>
<line x1="1719.70" y1="221.90" x2="1754.90" y2="221.90" stroke="#000" stroke-width="2.3" stroke-linecap="butt"/>
<line x1="1728.40" y1="203.50" x2="1746.00" y2="203.50" stroke="#000" stroke-width="2.3" stroke-linecap="butt"/>
<line x1="1737.30" y1="203.50" x2="1737.30" y2="221.90" stroke="#000" stroke-width="2.3" stroke-linecap="butt"/>
<rect x="1732.30" y="166.70" width="10.0" height="10.0" fill="#1a1a1a"/>
<rect x="1732.30" y="213.60" width="10.0" height="10.0" fill="#1a1a1a"/>
<rect x="1740.60" y="237.00" width="10.0" height="10.0" fill="#1a1a1a"/>
<rect x="1732.30" y="249.20" width="10.0" height="10.0" fill="#1a1a1a"/>
<line x1="1770.60" y1="242.00" x2="1805.70" y2="242.00" stroke="#000" stroke-width="2.3" stroke-linecap="butt"/>
<line x1="1779.00" y1="224.10" x2="1797.00" y2="224.10" stroke="#000" stroke-width="2.3" stroke-linecap="butt"/>
<line x1="1787.80" y1="224.10" x2="1787.80" y2="242.00" stroke="#000" stroke-width="2.3" stroke-linecap="butt"/>
<polygon points="1780.00,202.10 1785.00,211.70 1775.00,211.70" fill="#1a1a1a"/>
<polygon points="1787.80,214.60 1792.80,224.20 1782.80,224.20" fill="#1a1a1a"/>
<polygon points="1796.20,262.00 1801.20,271.60 1791.20,271.60" fill="#1a1a1a"/>
<polygon points="1787.80,274.40 1792.80,284.00 1782.80,284.00" fill="#1a1a1a"/>
<line x1="1821.80" y1="250.40" x2="1856.40" y2="250.40" stroke="#000" stroke-width="2.3" stroke-linecap="butt"/>
<line x1="1829.70" y1="222.40" x2="1848.60" y2="222.40" stroke="#000" stroke-width="2.3" stroke-linecap="butt"/>
<line x1="1829.70" y1="277.70" x2="1848.60" y2="277.70" stroke="#000" stroke-width="2.3" stroke-linecap="butt"/>
<line x1="1838.90" y1="222.40" x2="1838.90" y2="277.70" stroke="#000" stroke-width="2.3" stroke-linecap="butt"/>
<polygon points="1833.90,182.80 1843.90,182.80 1838.90,192.40" fill="#1a1a1a"/>
<polygon points="1833.90,213.40 1843.90,213.40 1838.90,223.00" fill="#1a1a1a"/>
<polygon points="1833.90,275.40 1843.90,275.40 1838.90,285.00" fill="#1a1a1a"/>
<polygon points="1833.90,304.20 1843.90,304.20 1838.90,313.80" fill="#1a1a1a"/>
<line x1="1687.50" y1="150.90" x2="1726.80" y2="150.90" stroke="#000" stroke-width="2.8" stroke-linecap="round"/>
<line x1="1746.80" y1="148.10" x2="1780.70" y2="148.10" stroke="#000" stroke-width="2.8" stroke-linecap="round"/>
<line x1="1748.40" y1="115.00" x2="1818.60" y2="115.00" stroke="#000" stroke-width="2.8" stroke-linecap="round"/>
<line x1="1662.30" y1="417.00" x2="1714.90" y2="417.00" stroke="#000" stroke-width="2.8" stroke-linecap="butt"/>
<line x1="1729.40" y1="418.00" x2="1851.10" y2="418.00" stroke="#000" stroke-width="2.8" stroke-linecap="butt"/>
<line x1="858.70" y1="579.90" x2="858.70" y2="852.70" stroke="#000" stroke-width="2.6" stroke-linecap="butt"/>
<line x1="850.10" y1="851.50" x2="1059.70" y2="851.50" stroke="#000" stroke-width="2.5" stroke-linecap="butt"/>
<line x1="850.10" y1="581.10" x2="858.70" y2="581.10" stroke="#000" stroke-width="2.5" stroke-linecap="butt"/>
<line x1="850.10" y1="635.30" x2="858.70" y2="635.30" stroke="#000" stroke-width="2.5" stroke-linecap="butt"/>
<line x1="850.10" y1="689.10" x2="858.70" y2="689.10" stroke="#000" stroke-width="2.5" stroke-linecap="butt"/>
<line x1="850.10" y1="743.30" x2="858.70" y2="743.30" stroke="#000" stroke-width="2.5" stroke-linecap="butt"/>
<line x1="850.10" y1="797.50" x2="858.70" y2="797.50" stroke="#000" stroke-width="2.5" stroke-linecap="butt"/>
<line x1="866.40" y1="832.10" x2="901.00" y2="832.10" stroke="#000" stroke-width="2.3" stroke-linecap="butt"/>
<line x1="883.50" y1="832.10" x2="883.50" y2="832.10" stroke="#000" stroke-width="2.3" stroke-linecap="butt"/>
<circle cx="875.00" cy="826.10" r="5.10" fill="#1a1a1a"/>
<circle cx="883.00" cy="836.40" r="5.10" fill="#1a1a1a"/>
<circle cx="891.80" cy="831.40" r="5.10" fill="#1a1a1a"/>
<line x1="916.40" y1="684.10" x2="950.90" y2="684.10" stroke="#000" stroke-width="2.3" stroke-linecap="butt"/>
<line x1="924.90" y1="670.30" x2="942.20" y2="670.30" stroke="#000" stroke-width="2.3" stroke-linecap="butt"/>
<line x1="933.60" y1="670.30" x2="933.60" y2="684.10" stroke="#000" stroke-width="2.3" stroke-linecap="butt"/>
<rect x="928.60" y="640.40" width="10.0" height="10.0" fill="#1a1a1a"/>
<rect x="928.60" y="680.90" width="10.0" height="10.0" fill="#1a1a1a"/>
<rect x="937.20" y="692.20" width="10.0" height="10.0" fill="#1a1a1a"/>
<rect x="928.60" y="701.00" width="10.0" height="10.0" fill="#1a1a1a"/>
<line x1="966.30" y1="746.70" x2="1000.40" y2="746.70" stroke="#000" stroke-width="2.3" stroke-linecap="butt"/>
<line x1="974.40" y1="734.70" x2="992.30" y2="734.70" stroke="#000" stroke-width="2.3" stroke-linecap="butt"/>
<line x1="983.60" y1="734.70" x2="983.60" y2="746.70" stroke="#000" stroke-width="2.3" stroke-linecap="butt"/>
<polygon points="983.60,716.10 988.60,725.70 978.60,725.70" fill="#1a1a1a"/>
<polygon points="975.80,736.80 980.80,746.40 970.80,746.40" fill="#1a1a1a"/>
<polygon points="983.60,746.00 988.60,755.60 978.60,755.60" fill="#1a1a1a"/>
<polygon points="983.60,772.00 988.60,781.60 978.60,781.60" fill="#1a1a1a"/>
<line x1="1016.00" y1="786.00" x2="1050.60" y2="786.00" stroke="#000" stroke-width="2.3" stroke-linecap="butt"/>
<line x1="1024.60" y1="775.50" x2="1042.30" y2="775.50" stroke="#000" stroke-width="2.3" stroke-linecap="butt"/>
<line x1="1024.60" y1="796.20" x2="1042.30" y2="796.20" stroke="#000" stroke-width="2.3" stroke-linecap="butt"/>
<line x1="1033.30" y1="775.50" x2="1033.30" y2="796.20" stroke="#000" stroke-width="2.3" stroke-linecap="butt"/>
<polygon points="1020.20,757.50 1030.20,757.50 1025.20,767.10" fill="#1a1a1a"/>
<polygon points="1028.30,765.60 1038.30,765.60 1033.30,775.20" fill="#1a1a1a"/>
<polygon points="1028.30,799.00 1038.30,799.00 1033.30,808.60" fill="#1a1a1a"/>
<polygon points="1035.70,797.40 1045.70,797.40 1040.70,807.00" fill="#1a1a1a"/>
<line x1="885.60" y1="628.80" x2="930.10" y2="628.80" stroke="#000" stroke-width="2.8" stroke-linecap="round"/>
<line x1="940.40" y1="628.80" x2="979.70" y2="628.80" stroke="#000" stroke-width="2.8" stroke-linecap="round"/>
<line x1="943.60" y1="593.60" x2="1024.50" y2="593.60" stroke="#000" stroke-width="2.8" stroke-linecap="round"/>
<line x1="855.30" y1="892.10" x2="907.40" y2="892.10" stroke="#000" stroke-width="2.8" stroke-linecap="butt"/>
<line x1="922.10" y1="892.50" x2="1043.50" y2="892.50" stroke="#000" stroke-width="2.8" stroke-linecap="butt"/>
<line x1="1247.40" y1="576.60" x2="1247.40" y2="847.10" stroke="#000" stroke-width="2.6" stroke-linecap="butt"/>
<line x1="1238.80" y1="845.90" x2="1452.30" y2="845.90" stroke="#000" stroke-width="2.5" stroke-linecap="butt"/>
<line x1="1238.80" y1="577.80" x2="1247.40" y2="577.80" stroke="#000" stroke-width="2.5" stroke-linecap="butt"/>
<line x1="1238.80" y1="645.00" x2="1247.40" y2="645.00" stroke="#000" stroke-width="2.5" stroke-linecap="butt"/>
<line x1="1238.80" y1="711.50" x2="1247.40" y2="711.50" stroke="#000" stroke-width="2.5" stroke-linecap="butt"/>
<line x1="1238.80" y1="779.00" x2="1247.40" y2="779.00" stroke="#000" stroke-width="2.5" stroke-linecap="butt"/>
<line x1="1255.60" y1="826.10" x2="1290.30" y2="826.10" stroke="#000" stroke-width="2.3" stroke-linecap="butt"/>
<line x1="1272.40" y1="826.10" x2="1272.40" y2="826.10" stroke="#000" stroke-width="2.3" stroke-linecap="butt"/>
<circle cx="1264.30" cy="820.50" r="5.10" fill="#1a1a1a"/>
<circle cx="1272.40" cy="831.90" r="5.10" fill="#1a1a1a"/>
<circle cx="1280.60" cy="826.70" r="5.10" fill="#1a1a1a"/>
<line x1="1306.50" y1="690.80" x2="1341.20" y2="690.80" stroke="#000" stroke-width="2.3" stroke-linecap="butt"/>
<line x1="1315.60" y1="664.50" x2="1332.50" y2="664.50" stroke="#000" stroke-width="2.3" stroke-linecap="butt"/>
<line x1="1323.70" y1="664.50" x2="1323.70" y2="690.80" stroke="#000" stroke-width="2.3" stroke-linecap="butt"/>
<rect x="1318.70" y="629.60" width="10.0" height="10.0" fill="#1a1a1a"/>
<rect x="1318.70" y="663.70" width="10.0" height="10.0" fill="#1a1a1a"/>
<rect x="1318.70" y="699.40" width="10.0" height="10.0" fill="#1a1a1a"/>
<rect x="1318.70" y="752.00" width="10.0" height="10.0" fill="#1a1a1a"/>
<line x1="1357.50" y1="742.70" x2="1391.90" y2="742.70" stroke="#000" stroke-width="2.3" stroke-linecap="butt"/>
<line x1="1365.90" y1="729.40" x2="1383.40" y2="729.40" stroke="#000" stroke-width="2.3" stroke-linecap="butt"/>
<line x1="1374.70" y1="729.40" x2="1374.70" y2="742.70" stroke="#000" stroke-width="2.3" stroke-linecap="butt"/>
<polygon points="1374.70,707.70 1379.70,717.30 1369.70,717.30" fill="#1a1a1a"/>
<polygon points="1374.70,725.50 1379.70,735.10 1369.70,735.10" fill="#1a1a1a"/>
<polygon points="1382.80,753.80 1387.80,763.40 1377.80,763.40" fill="#1a1a1a"/>
<polygon points="1374.70,766.10 1379.70,775.70 1369.70,775.70" fill="#1a1a1a"/>
<line x1="1408.00" y1="775.80" x2="1442.80" y2="775.80" stroke="#000" stroke-width="2.3" stroke-linecap="butt"/>
<line x1="1416.80" y1="763.40" x2="1434.00" y2="763.40" stroke="#000" stroke-width="2.3" stroke-linecap="butt"/>
<line x1="1416.80" y1="789.10" x2="1434.00" y2="789.10" stroke="#000" stroke-width="2.3" stroke-linecap="butt"/>
<line x1="1425.00" y1="763.40" x2="1425.00" y2="789.10" stroke="#000" stroke-width="2.3" stroke-linecap="butt"/>
<polygon points="1420.00,733.00 1430.00,733.00 1425.00,742.60" fill="#1a1a1a"/>
<polygon points="1420.00,775.80 1430.00,775.80 1425.00,785.40" fill="#1a1a1a"/>
<polygon points="1428.00,779.10 1438.00,779.10 1433.00,788.70" fill="#1a1a1a"/>
<polygon points="1420.00,794.70 1430.00,794.70 1425.00,804.30" fill="#1a1a1a"/>
<line x1="1279.70" y1="623.20" x2="1318.80" y2="623.20" stroke="#000" stroke-width="2.8" stroke-linecap="round"/>
<line x1="1331.60" y1="621.60" x2="1370.00" y2="621.60" stroke="#000" stroke-width="2.8" stroke-linecap="round"/>
<line x1="1330.60" y1="586.60" x2="1396.00" y2="586.60" stroke="#000" stroke-width="2.8" stroke-linecap="round"/>
<line x1="1247.60" y1="890.50" x2="1299.90" y2="890.50" stroke="#000" stroke-width="2.8" stroke-linecap="butt"/>
<line x1="1314.70" y1="890.70" x2="1436.20" y2="890.70" stroke="#000" stroke-width="2.8" stroke-linecap="butt"/>
<line x1="1667.40" y1="576.60" x2="1667.40" y2="847.10" stroke="#000" stroke-width="2.6" stroke-linecap="butt"/>
<line x1="1658.80" y1="845.90" x2="1868.40" y2="845.90" stroke="#000" stroke-width="2.5" stroke-linecap="butt"/>
<line x1="1658.80" y1="577.80" x2="1667.40" y2="577.80" stroke="#000" stroke-width="2.5" stroke-linecap="butt"/>
<line x1="1658.80" y1="632.00" x2="1667.40" y2="632.00" stroke="#000" stroke-width="2.5" stroke-linecap="butt"/>
<line x1="1658.80" y1="685.90" x2="1667.40" y2="685.90" stroke="#000" stroke-width="2.5" stroke-linecap="butt"/>
<line x1="1658.80" y1="738.50" x2="1667.40" y2="738.50" stroke="#000" stroke-width="2.5" stroke-linecap="butt"/>
<line x1="1658.80" y1="792.60" x2="1667.40" y2="792.60" stroke="#000" stroke-width="2.5" stroke-linecap="butt"/>
<line x1="1675.60" y1="816.30" x2="1709.60" y2="816.30" stroke="#000" stroke-width="2.3" stroke-linecap="butt"/>
<line x1="1692.40" y1="816.30" x2="1692.40" y2="816.30" stroke="#000" stroke-width="2.3" stroke-linecap="butt"/>
<circle cx="1684.30" cy="814.00" r="5.10" fill="#1a1a1a"/>
<circle cx="1692.40" cy="818.00" r="5.10" fill="#1a1a1a"/>
<circle cx="1700.60" cy="817.30" r="5.10" fill="#1a1a1a"/>
<line x1="1724.90" y1="692.40" x2="1759.90" y2="692.40" stroke="#000" stroke-width="2.3" stroke-linecap="butt"/>
<line x1="1734.00" y1="671.00" x2="1751.80" y2="671.00" stroke="#000" stroke-width="2.3" stroke-linecap="butt"/>
<line x1="1742.70" y1="671.00" x2="1742.70" y2="692.40" stroke="#000" stroke-width="2.3" stroke-linecap="butt"/>
<rect x="1737.70" y="628.70" width="10.0" height="10.0" fill="#1a1a1a"/>
<rect x="1737.70" y="683.20" width="10.0" height="10.0" fill="#1a1a1a"/>
<rect x="1737.70" y="705.90" width="10.0" height="10.0" fill="#1a1a1a"/>
<rect x="1737.70" y="733.50" width="10.0" height="10.0" fill="#1a1a1a"/>
<line x1="1775.20" y1="747.20" x2="1809.90" y2="747.20" stroke="#000" stroke-width="2.3" stroke-linecap="butt"/>
<line x1="1784.00" y1="734.60" x2="1801.10" y2="734.60" stroke="#000" stroke-width="2.3" stroke-linecap="butt"/>
<line x1="1792.40" y1="734.60" x2="1792.40" y2="747.20" stroke="#000" stroke-width="2.3" stroke-linecap="butt"/>
<polygon points="1792.40,708.30 1797.40,717.90 1787.40,717.90" fill="#1a1a1a"/>
<polygon points="1792.40,737.60 1797.40,747.20 1787.40,747.20" fill="#1a1a1a"/>
<polygon points="1800.50,757.00 1805.50,766.60 1795.50,766.60" fill="#1a1a1a"/>
<polygon points="1792.40,768.70 1797.40,778.30 1787.40,778.30" fill="#1a1a1a"/>
<line x1="1825.50" y1="772.50" x2="1859.50" y2="772.50" stroke="#000" stroke-width="2.3" stroke-linecap="butt"/>
<line x1="1834.20" y1="759.50" x2="1851.40" y2="759.50" stroke="#000" stroke-width="2.3" stroke-linecap="butt"/>
<line x1="1834.20" y1="785.50" x2="1851.40" y2="785.50" stroke="#000" stroke-width="2.3" stroke-linecap="butt"/>
<line x1="1842.70" y1="759.50" x2="1842.70" y2="785.50" stroke="#000" stroke-width="2.3" stroke-linecap="butt"/>
<polygon points="1837.00,746.60 1847.00,746.60 1842.00,756.20" fill="#1a1a1a"/>
<polygon points="1845.80,746.60 1855.80,746.60 1850.80,756.20" fill="#1a1a1a"/>
<polygon points="1837.70,771.00 1847.70,771.00 1842.70,780.60" fill="#1a1a1a"/>
<polygon points="1837.70,802.40 1847.70,802.40 1842.70,812.00" fill="#1a1a1a"/>
<line x1="1697.40" y1="619.00" x2="1736.60" y2="619.00" stroke="#000" stroke-width="2.8" stroke-linecap="round"/>
<line x1="1745.10" y1="619.00" x2="1784.20" y2="619.00" stroke="#000" stroke-width="2.8" stroke-linecap="round"/>
<line x1="1747.40" y1="586.60" x2="1813.70" y2="586.60" stroke="#000" stroke-width="2.8" stroke-linecap="round"/>
<line x1="1666.70" y1="889.40" x2="1719.30" y2="889.40" stroke="#000" stroke-width="2.8" stroke-linecap="butt"/>
<line x1="1733.60" y1="889.40" x2="1855.60" y2="889.40" stroke="#000" stroke-width="2.8" stroke-linecap="butt"/>
<text x="13.20" y="34.30" font-size="34.5" textLength="17.27" lengthAdjust="spacingAndGlyphs">a</text>
<text x="129.81" y="45.50" font-size="31">max</text>
<text x="285.49" y="44.00" font-size="29.5" textLength="16.66" lengthAdjust="spacingAndGlyphs">0</text>
<text x="398.56" y="48.30" font-size="29.5" textLength="53.42" lengthAdjust="spacingAndGlyphs">min</text>
<text x="142.41" y="132.50" font-size="30.5" textLength="60.68" lengthAdjust="spacingAndGlyphs">MpJ</text>
<text x="279.86" y="136.10" font-size="28.5" font-style="italic" textLength="38.00" lengthAdjust="spacingAndGlyphs">lpr</text>
<text x="405.94" y="133.40" font-size="28.5" font-style="italic" textLength="38.69" lengthAdjust="spacingAndGlyphs">lpr</text>
<text x="557.04" y="133.40" font-size="28.5" font-style="italic" textLength="38.69" lengthAdjust="spacingAndGlyphs">lpr</text>
<text x="25.36" y="181.50" font-size="30" textLength="80.93" lengthAdjust="spacingAndGlyphs">NCTD</text>
<text x="160.56" y="186.10" font-size="28" textLength="17.74" lengthAdjust="spacingAndGlyphs">0</text>
<text x="286.38" y="186.10" font-size="28" textLength="17.38" lengthAdjust="spacingAndGlyphs">0</text>
<text x="404.35" y="186.50" font-size="28" textLength="13.66" lengthAdjust="spacingAndGlyphs">1</text>
<text x="570.93" y="186.50" font-size="28" textLength="18.21" lengthAdjust="spacingAndGlyphs">2</text>
<text x="645.58" y="186.70" font-size="29" textLength="90.68" lengthAdjust="spacingAndGlyphs">mg/kg</text>
<text x="51.39" y="217.80" font-size="23.5" textLength="56.07" lengthAdjust="spacingAndGlyphs">IFN-γ</text>
<text x="64.60" y="248.10" font-size="23.5" textLength="39.64" lengthAdjust="spacingAndGlyphs">IL-6</text>
<text x="51.37" y="278.90" font-size="23.5" textLength="52.96" lengthAdjust="spacingAndGlyphs">IL-17</text>
<text x="43.90" y="310.20" font-size="23.5" textLength="63.59" lengthAdjust="spacingAndGlyphs">TNF-α</text>
<text x="36.41" y="345.10" font-size="23.5" textLength="69.16" lengthAdjust="spacingAndGlyphs">MCP-1</text>
<text x="50.40" y="381.30" font-size="23.5" textLength="53.32" lengthAdjust="spacingAndGlyphs">IL-1α</text>
<text x="52.85" y="413.60" font-size="23.5" textLength="54.85" lengthAdjust="spacingAndGlyphs">IL-1β</text>
<text x="62.43" y="448.30" font-size="23.5" textLength="41.25" lengthAdjust="spacingAndGlyphs">IL-2</text>
<text x="63.97" y="479.70" font-size="23.5" textLength="40.28" lengthAdjust="spacingAndGlyphs">IL-3</text>
<text x="62.48" y="514.60" font-size="23.5" textLength="40.21" lengthAdjust="spacingAndGlyphs">IL-4</text>
<text x="61.85" y="547.70" font-size="23.5" textLength="40.71" lengthAdjust="spacingAndGlyphs">IL-5</text>
<text x="61.87" y="578.40" font-size="23.5" textLength="40.28" lengthAdjust="spacingAndGlyphs">IL-9</text>
<text x="51.37" y="610.30" font-size="23.5" textLength="52.96" lengthAdjust="spacingAndGlyphs">IL-10</text>
<text x="-0.20" y="643.80" font-size="23.5" textLength="105.66" lengthAdjust="spacingAndGlyphs">IL-12(p40)</text>
<text x="-0.20" y="681.80" font-size="23.5" textLength="105.66" lengthAdjust="spacingAndGlyphs">IL-12(p70)</text>
<text x="47.19" y="716.30" font-size="23.5" textLength="52.33" lengthAdjust="spacingAndGlyphs">IL-13</text>
<text x="22.75" y="747.30" font-size="23.5" textLength="82.58" lengthAdjust="spacingAndGlyphs">Eotaxin</text>
<text x="32.53" y="780.70" font-size="23.5" textLength="70.95" lengthAdjust="spacingAndGlyphs">G-CSF</text>
<text x="14.75" y="815.60" font-size="23.5" textLength="88.31" lengthAdjust="spacingAndGlyphs">GM-CSF</text>
<text x="73.64" y="845.50" font-size="23.5" textLength="35.05" lengthAdjust="spacingAndGlyphs">KC</text>
<text x="37.81" y="884.60" font-size="23.5" textLength="72.70" lengthAdjust="spacingAndGlyphs">MIP-1α</text>
<text x="33.58" y="916.60" font-size="23.5" textLength="74.01" lengthAdjust="spacingAndGlyphs">MIP-1β</text>
<text x="17.26" y="950.40" font-size="23.5" textLength="93.75" lengthAdjust="spacingAndGlyphs">RANTES</text>
<text x="722.55" y="24.40" font-size="34" textLength="22.37" lengthAdjust="spacingAndGlyphs">b</text>
<text x="805.81" y="117.60" font-size="30.5" textLength="48.13" lengthAdjust="spacingAndGlyphs">150</text>
<text x="805.81" y="207.40" font-size="30.5" textLength="48.13" lengthAdjust="spacingAndGlyphs">100</text>
<text x="822.37" y="297.10" font-size="30.5" textLength="31.60" lengthAdjust="spacingAndGlyphs">50</text>
<text x="837.95" y="386.70" font-size="30.5" textLength="16.06" lengthAdjust="spacingAndGlyphs">0</text>
<text transform="translate(792.30,337.21) rotate(-90)" font-size="28.5" textLength="193.94" lengthAdjust="spacingAndGlyphs">IFN-γ (pg/mL)</text>
<text x="895.00" y="116.00" font-size="29">**</text>
<text x="943.28" y="105.30" font-size="28.5" textLength="36.04" lengthAdjust="spacingAndGlyphs">ns</text>
<text x="969.80" y="76.20" font-size="28.5" stroke="#000" stroke-width="0.7">#</text>
<text x="778.36" y="408.40" font-size="30" textLength="80.72" lengthAdjust="spacingAndGlyphs">NCTD</text>
<text x="881.60" y="409.40" font-size="28.8">0</text>
<text x="931.90" y="409.40" font-size="28.8">0</text>
<text x="980.70" y="409.40" font-size="28.8">1</text>
<text x="1031.30" y="409.40" font-size="28.8">2</text>
<text x="1055.49" y="409.70" font-size="28.8" textLength="89.42" lengthAdjust="spacingAndGlyphs">mg/kg</text>
<text x="863.72" y="439.10" font-size="29.8" textLength="59.08" lengthAdjust="spacingAndGlyphs">MpJ</text>
<text x="978.16" y="439.50" font-size="29" font-style="italic" textLength="38.57" lengthAdjust="spacingAndGlyphs">lpr</text>
<text x="1142.12" y="24.30" font-size="34" textLength="18.59" lengthAdjust="spacingAndGlyphs">c</text>
<text x="1207.57" y="112.80" font-size="30.5" textLength="31.60" lengthAdjust="spacingAndGlyphs">50</text>
<text x="1208.50" y="166.10" font-size="30.5" textLength="30.65" lengthAdjust="spacingAndGlyphs">40</text>
<text x="1207.57" y="219.50" font-size="30.5" textLength="31.60" lengthAdjust="spacingAndGlyphs">30</text>
<text x="1207.57" y="273.50" font-size="30.5" textLength="31.60" lengthAdjust="spacingAndGlyphs">20</text>
<text x="1206.58" y="326.80" font-size="30.5" textLength="32.62" lengthAdjust="spacingAndGlyphs">10</text>
<text x="1223.15" y="380.80" font-size="30.5" textLength="16.06" lengthAdjust="spacingAndGlyphs">0</text>
<text transform="translate(1184.90,329.41) rotate(-90)" font-size="28.5" textLength="172.13" lengthAdjust="spacingAndGlyphs">IL-4 (pg/mL)</text>
<text x="1277.38" y="108.70" font-size="28.5" textLength="36.04" lengthAdjust="spacingAndGlyphs">ns</text>
<text x="1331.38" y="108.70" font-size="28.5" textLength="36.04" lengthAdjust="spacingAndGlyphs">ns</text>
<text x="1343.78" y="80.20" font-size="28.5" textLength="36.04" lengthAdjust="spacingAndGlyphs">ns</text>
<text x="1165.48" y="403.70" font-size="30" textLength="80.20" lengthAdjust="spacingAndGlyphs">NCTD</text>
<text x="1268.40" y="404.50" font-size="28.8">0</text>
<text x="1319.00" y="404.50" font-size="28.8">0</text>
<text x="1368.30" y="404.50" font-size="28.8">1</text>
<text x="1418.50" y="404.50" font-size="28.8">2</text>
<text x="1442.49" y="405.60" font-size="28.8" textLength="89.31" lengthAdjust="spacingAndGlyphs">mg/kg</text>
<text x="1248.81" y="435.90" font-size="29.8" textLength="59.29" lengthAdjust="spacingAndGlyphs">MpJ</text>
<text x="1362.97" y="436.30" font-size="29" font-style="italic" textLength="38.06" lengthAdjust="spacingAndGlyphs">lpr</text>
<text x="1537.21" y="34.00" font-size="34" textLength="22.74" lengthAdjust="spacingAndGlyphs">d</text>
<text x="1586.72" y="117.80" font-size="30.5" textLength="63.68" lengthAdjust="spacingAndGlyphs">1000</text>
<text x="1603.27" y="171.30" font-size="30.5" textLength="47.15" lengthAdjust="spacingAndGlyphs">800</text>
<text x="1603.27" y="225.50" font-size="30.5" textLength="47.15" lengthAdjust="spacingAndGlyphs">600</text>
<text x="1604.20" y="279.30" font-size="30.5" textLength="46.21" lengthAdjust="spacingAndGlyphs">400</text>
<text x="1603.27" y="332.80" font-size="30.5" textLength="47.15" lengthAdjust="spacingAndGlyphs">200</text>
<text x="1634.45" y="386.70" font-size="30.5" textLength="16.06" lengthAdjust="spacingAndGlyphs">0</text>
<text transform="translate(1582.40,327.42) rotate(-90)" font-size="28.5" textLength="189.78" lengthAdjust="spacingAndGlyphs">IL-10 (pg/mL)</text>
<text x="1692.60" y="155.20" font-size="29">**</text>
<text x="1749.68" y="143.30" font-size="28.5" textLength="36.04" lengthAdjust="spacingAndGlyphs">ns</text>
<text x="1771.48" y="112.40" font-size="28.5" textLength="36.04" lengthAdjust="spacingAndGlyphs">ns</text>
<text x="1577.37" y="411.20" font-size="30" textLength="80.52" lengthAdjust="spacingAndGlyphs">NCTD</text>
<text x="1679.30" y="412.20" font-size="28.8">0</text>
<text x="1729.50" y="412.20" font-size="28.8">0</text>
<text x="1778.80" y="412.20" font-size="28.8">1</text>
<text x="1829.00" y="412.20" font-size="28.8">2</text>
<text x="1853.09" y="412.50" font-size="28.8" textLength="89.31" lengthAdjust="spacingAndGlyphs">mg/kg</text>
<text x="1658.83" y="446.90" font-size="29.8" textLength="58.65" lengthAdjust="spacingAndGlyphs">MpJ</text>
<text x="1774.76" y="447.30" font-size="29" font-style="italic" textLength="38.67" lengthAdjust="spacingAndGlyphs">lpr</text>
<text x="733.61" y="531.30" font-size="34" textLength="18.70" lengthAdjust="spacingAndGlyphs">e</text>
<text x="800.97" y="591.30" font-size="30.5" textLength="47.15" lengthAdjust="spacingAndGlyphs">500</text>
<text x="801.90" y="645.50" font-size="30.5" textLength="46.21" lengthAdjust="spacingAndGlyphs">400</text>
<text x="800.97" y="699.30" font-size="30.5" textLength="47.15" lengthAdjust="spacingAndGlyphs">300</text>
<text x="800.97" y="753.50" font-size="30.5" textLength="47.15" lengthAdjust="spacingAndGlyphs">200</text>
<text x="800.01" y="807.70" font-size="30.5" textLength="48.13" lengthAdjust="spacingAndGlyphs">100</text>
<text x="832.15" y="861.70" font-size="30.5" textLength="16.06" lengthAdjust="spacingAndGlyphs">0</text>
<text transform="translate(784.10,796.51) rotate(-90)" font-size="28.5" textLength="188.87" lengthAdjust="spacingAndGlyphs">IL-17 (pg/mL)</text>
<text x="899.00" y="636.10" font-size="29">**</text>
<text x="952.40" y="624.60" font-size="30.5">$</text>
<text x="972.20" y="590.50" font-size="28.5" stroke="#000" stroke-width="0.7">##</text>
<text x="770.18" y="886.60" font-size="30" textLength="79.89" lengthAdjust="spacingAndGlyphs">NCTD</text>
<text x="873.10" y="887.60" font-size="28.8">0</text>
<text x="923.80" y="887.60" font-size="28.8">0</text>
<text x="972.50" y="887.60" font-size="28.8">1</text>
<text x="1022.80" y="887.60" font-size="28.8">2</text>
<text x="1046.88" y="887.90" font-size="28.8" textLength="89.94" lengthAdjust="spacingAndGlyphs">mg/kg</text>
<text x="848.21" y="917.90" font-size="29.8">MpJ</text>
<text x="966.95" y="918.30" font-size="29" font-style="italic" textLength="39.07" lengthAdjust="spacingAndGlyphs">lpr</text>
<text x="1130.74" y="530.30" font-size="34" textLength="14.27" lengthAdjust="spacingAndGlyphs">f</text>
<text x="1173.98" y="588.00" font-size="30.5" textLength="62.72" lengthAdjust="spacingAndGlyphs">2000</text>
<text x="1173.02" y="655.20" font-size="30.5" textLength="63.68" lengthAdjust="spacingAndGlyphs">1500</text>
<text x="1173.02" y="721.70" font-size="30.5" textLength="63.68" lengthAdjust="spacingAndGlyphs">1000</text>
<text x="1189.57" y="789.20" font-size="30.5" textLength="47.15" lengthAdjust="spacingAndGlyphs">500</text>
<text x="1220.75" y="856.10" font-size="30.5" textLength="16.06" lengthAdjust="spacingAndGlyphs">0</text>
<text transform="translate(1159.10,805.01) rotate(-90)" font-size="28.5" textLength="188.97" lengthAdjust="spacingAndGlyphs">IL-22 (pg/mL)</text>
<text x="1297.20" y="630.20" font-size="29">*</text>
<text x="1334.48" y="616.80" font-size="28.5" textLength="36.04" lengthAdjust="spacingAndGlyphs">ns</text>
<text x="1364.50" y="584.30" font-size="28.5" stroke="#000" stroke-width="0.7">#</text>
<text x="1162.47" y="885.10" font-size="30" textLength="80.62" lengthAdjust="spacingAndGlyphs">NCTD</text>
<text x="1265.80" y="886.10" font-size="28.8">0</text>
<text x="1316.30" y="886.10" font-size="28.8">0</text>
<text x="1365.30" y="886.10" font-size="28.8">1</text>
<text x="1416.00" y="886.10" font-size="28.8">2</text>
<text x="1439.47" y="886.40" font-size="28.8" textLength="90.26" lengthAdjust="spacingAndGlyphs">mg/kg</text>
<text x="1243.82" y="918.60" font-size="29.8" textLength="59.08" lengthAdjust="spacingAndGlyphs">MpJ</text>
<text x="1359.34" y="919.00" font-size="29" font-style="italic" textLength="39.17" lengthAdjust="spacingAndGlyphs">lpr</text>
<text x="1538.85" y="527.60" font-size="34" textLength="21.76" lengthAdjust="spacingAndGlyphs">g</text>
<text x="1610.07" y="588.00" font-size="30.5" textLength="47.15" lengthAdjust="spacingAndGlyphs">250</text>
<text x="1610.07" y="642.20" font-size="30.5" textLength="47.15" lengthAdjust="spacingAndGlyphs">200</text>
<text x="1609.11" y="696.10" font-size="30.5" textLength="48.13" lengthAdjust="spacingAndGlyphs">150</text>
<text x="1609.11" y="748.70" font-size="30.5" textLength="48.13" lengthAdjust="spacingAndGlyphs">100</text>
<text x="1625.67" y="802.80" font-size="30.5" textLength="31.60" lengthAdjust="spacingAndGlyphs">50</text>
<text x="1641.25" y="856.10" font-size="30.5" textLength="16.06" lengthAdjust="spacingAndGlyphs">0</text>
<text transform="translate(1587.40,810.11) rotate(-90)" font-size="28.5" textLength="189.07" lengthAdjust="spacingAndGlyphs">IL-23 (pg/mL)</text>
<text x="1712.20" y="625.80" font-size="29">*</text>
<text x="1747.08" y="613.50" font-size="28.5" textLength="36.04" lengthAdjust="spacingAndGlyphs">ns</text>
<text x="1779.00" y="582.70" font-size="28.5" stroke="#000" stroke-width="0.7">#</text>
<text x="1577.47" y="880.50" font-size="30" textLength="80.62" lengthAdjust="spacingAndGlyphs">NCTD</text>
<text x="1683.70" y="884.50" font-size="28.8">0</text>
<text x="1734.10" y="884.50" font-size="28.8">0</text>
<text x="1783.00" y="884.50" font-size="28.8">1</text>
<text x="1833.10" y="884.50" font-size="28.8">2</text>
<text x="1857.27" y="884.80" font-size="28.8" textLength="90.36" lengthAdjust="spacingAndGlyphs">mg/kg</text>
<text x="1664.09" y="914.20" font-size="29.8">MpJ</text>
<text x="1778.74" y="914.60" font-size="29" font-style="italic" textLength="39.17" lengthAdjust="spacingAndGlyphs">lpr</text>
</svg>
</body></html>
